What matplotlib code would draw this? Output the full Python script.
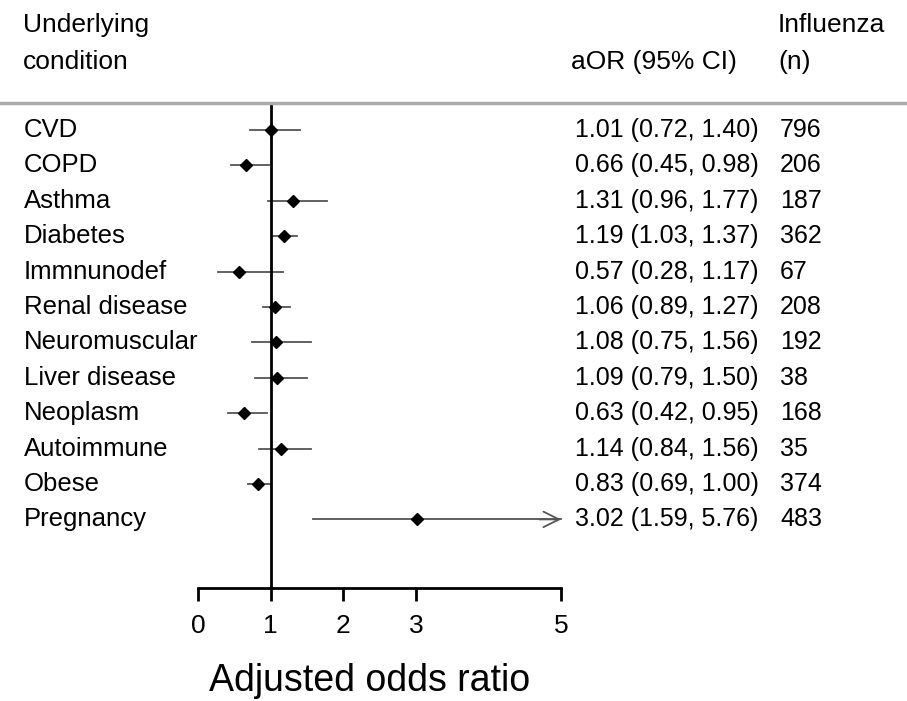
import matplotlib
matplotlib.use("Agg")
import matplotlib.pyplot as plt
from matplotlib.transforms import blended_transform_factory
from matplotlib.lines import Line2D

plt.rcParams['font.family'] = ['Liberation Sans', 'DejaVu Sans']

# data
conditions = ['CVD', 'COPD', 'Asthma', 'Diabetes', 'Immnunodef', 'Renal disease',
              'Neuromuscular', 'Liver disease', 'Neoplasm', 'Autoimmune', 'Obese', 'Pregnancy']
aor = [1.01, 0.66, 1.31, 1.19, 0.57, 1.06, 1.08, 1.09, 0.63, 1.14, 0.83, 3.02]
ci_low = [0.72, 0.45, 0.96, 1.03, 0.28, 0.89, 0.75, 0.79, 0.42, 0.84, 0.69, 1.59]
ci_high = [1.40, 0.98, 1.77, 1.37, 1.17, 1.27, 1.56, 1.50, 0.95, 1.56, 1.00, 5.76]
n_flu = [796, 206, 187, 362, 67, 208, 192, 38, 168, 35, 374, 483]
x_ticks = [0, 1, 2, 3, 5]
x_max = 5

W, H = 907, 701
fig = plt.figure(figsize=(W / 100, H / 100), dpi=100)
# axes: x 0 at px 198, x 5 at px 561; y from px 103 (top) to 588 (axis line)
ax = fig.add_axes([198 / W, 1 - 588 / H, (561 - 198) / W, (588 - 103) / H])

row_step = 35.4
ax.set_xlim(0, x_max)
ax.set_ylim((588 - 130) / row_step, (103 - 130) / row_step)

rows = list(range(len(conditions)))
for i in rows:
    hi = min(ci_high[i], x_max)
    ax.plot([ci_low[i], hi], [i, i], color='#555555', lw=1.3, clip_on=False, zorder=2)
    if ci_high[i] > x_max:
        # CI runs off the scale -> open arrow head at the end
        ax.annotate('', xy=(x_max, i), xytext=(x_max - 0.3, i),
                    arrowprops=dict(arrowstyle='->', color='#555555', lw=1.3,
                                    mutation_scale=28, shrinkA=0, shrinkB=0))
ax.plot(aor, rows, linestyle='none', marker='D', color='black', markersize=6, zorder=4)

ax.axvline(1, color='black', lw=2, zorder=3)

for s in ['top', 'right', 'left']:
    ax.spines[s].set_visible(False)
ax.spines['bottom'].set_linewidth(2)
ax.set_yticks([])
ax.set_xticks(x_ticks)
ax.tick_params(axis='x', direction='out', length=9, width=2, labelsize=19, pad=10)

fig.text(370 / W, 1 - 691 / H, 'Adjusted odds ratio', fontsize=27, va='baseline', ha='center')

tr = blended_transform_factory(fig.transFigure, ax.transData)
for i in rows:
    ax.text(24 / W, i, conditions[i], transform=tr, fontsize=18.5, va='center', ha='left')
    ax.text(575 / W, i, f'{aor[i]:.2f} ({ci_low[i]:.2f}, {ci_high[i]:.2f})',
            transform=tr, fontsize=18, va='center', ha='left')
    ax.text(780 / W, i, str(n_flu[i]), transform=tr, fontsize=18, va='center', ha='left')

# header
fig.text(23 / W, 1 - 25 / H, 'Underlying', fontsize=19, va='center', ha='left')
fig.text(23 / W, 1 - 62 / H, 'condition', fontsize=19, va='center', ha='left')
fig.text(737 / W, 1 - 62 / H, 'aOR (95% CI)', fontsize=19, va='center', ha='right')
fig.text(778 / W, 1 - 25 / H, 'Influenza', fontsize=19, va='center', ha='left')
fig.text(778 / W, 1 - 62 / H, '(n)', fontsize=19, va='center', ha='left')

fig.add_artist(Line2D([0, 1], [1 - 103 / H, 1 - 103 / H], transform=fig.transFigure,
                      color='#aaaaaa', lw=2.5))

fig.savefig('out.png', dpi=100)
